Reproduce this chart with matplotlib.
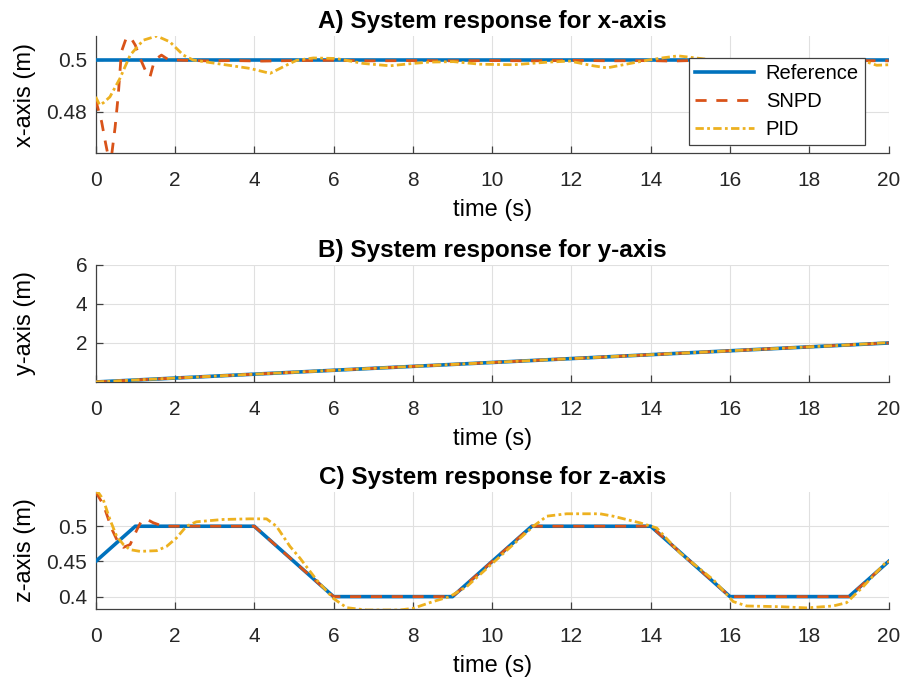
import matplotlib.pyplot as plt
import numpy as np

plt.rcParams['font.family'] = ['Liberation Sans', 'DejaVu Sans']

# colours (MATLAB default order)
c_ref = '#0072BD'
c_snpd = '#D95319'
c_pid = '#EDB120'

# ---- A) x-axis ----
xref_t = [0, 20]
xref_v = [0.5, 0.5]

xsnpd_t = [0, 0.15, 0.25, 0.31, 0.4, 0.49, 0.57, 0.65, 0.78, 0.9, 1.0, 1.12, 1.25, 1.37,
           1.45, 1.55, 1.66, 1.83, 2.2, 2.8, 3.5, 4.2, 5.0, 6.0, 7.0, 8.0, 9.0, 10.0,
           11.0, 12.0, 13.0, 14.0, 14.5, 15.0, 16.0, 17.0, 18.0, 19.0, 20.0]
xsnpd_v = [0.4845, 0.4762, 0.468, 0.4635, 0.463, 0.474, 0.4864, 0.503, 0.5086, 0.508, 0.5055,
           0.5005, 0.496, 0.4933, 0.4978, 0.5005, 0.5017, 0.5, 0.4997, 0.4995, 0.4996, 0.4994,
           0.4996, 0.4997, 0.4995, 0.4996, 0.4995, 0.4996, 0.4995, 0.4997, 0.4995, 0.4996,
           0.4994, 0.4996, 0.4995, 0.4996, 0.4995, 0.4996, 0.4995]

xpid_t = [0, 0.1, 0.2, 0.36, 0.61, 0.87, 1.2, 1.54, 1.87, 2.21, 2.46, 3.22, 3.89, 4.4, 4.9,
          5.07, 5.49, 6.06, 6.75, 7.42, 8.0, 8.4, 9.02, 9.7, 10.54, 11.4, 11.96, 12.55, 12.9,
          13.48, 13.9, 14.33, 14.69, 15.2, 16.0, 17.0, 18.0, 19.0, 19.44, 19.7, 20.0]
xpid_v = [0.4857, 0.4826, 0.4835, 0.4857, 0.4927, 0.5017, 0.5074, 0.509, 0.5068, 0.5017,
          0.4998, 0.4981, 0.4966, 0.4947, 0.4985, 0.4997, 0.5006, 0.5004, 0.4985, 0.4976,
          0.4985, 0.499, 0.4992, 0.4982, 0.498, 0.499, 0.4994, 0.4976, 0.4968, 0.4985, 0.4997,
          0.5007, 0.5014, 0.5005, 0.499, 0.4985, 0.4992, 0.4985, 0.4991, 0.4978, 0.498]

# ---- B) y-axis ----
y_t = [0, 1, 2, 3, 4, 5, 6, 7, 8, 9, 10, 11, 12, 13, 14, 15, 16, 17, 18, 19, 20]
yref_v = [0.0, 0.1, 0.2, 0.3, 0.4, 0.5, 0.6, 0.7, 0.8, 0.9, 1.0, 1.1, 1.2, 1.3, 1.4, 1.5,
          1.6, 1.7, 1.8, 1.9, 2.0]
ysnpd_v = [0.0, 0.1, 0.2, 0.3, 0.4, 0.5, 0.6, 0.7, 0.8, 0.9, 1.0, 1.1, 1.2, 1.3, 1.4, 1.5,
           1.6, 1.7, 1.8, 1.9, 2.0]
ypid_v = [0.0, 0.1, 0.2, 0.3, 0.4, 0.5, 0.6, 0.7, 0.8, 0.9, 1.0, 1.1, 1.2, 1.3, 1.4, 1.5,
          1.6, 1.7, 1.8, 1.9, 2.02]

# ---- C) z-axis ----
zref_t = [0, 1, 4, 6, 9, 11, 14, 16, 19, 20]
zref_v = [0.45, 0.5, 0.5, 0.4, 0.4, 0.5, 0.5, 0.4, 0.4, 0.45]

zsnpd_t = [0, 0.2, 0.4, 0.55, 0.7, 0.87, 1.04, 1.16, 1.3, 1.45, 1.7, 4, 6, 9, 11, 14, 16, 19, 20]
zsnpd_v = [0.549, 0.53, 0.497, 0.479, 0.47, 0.474, 0.495, 0.508, 0.5096, 0.505, 0.5,
           0.5, 0.4, 0.4, 0.5, 0.5, 0.4, 0.4, 0.45]

zpid_t = [0, 0.08, 0.19, 0.36, 0.53, 0.7, 0.87, 1.12, 1.54, 1.79, 2.04, 2.29, 2.54, 3.21, 3.89,
          4.31, 4.56, 4.9, 5.15, 5.57, 5.99, 6.33, 6.83, 7.67, 8.01, 8.51, 8.93, 9.36, 10.2,
          11.04, 11.38, 11.88, 12.72, 13.05, 13.73, 14.15, 14.74, 15.58, 16.08, 16.42, 17.26,
          17.93, 18.6, 18.94, 19.36, 19.95, 20]
zpid_v = [0.549, 0.547, 0.538, 0.5096, 0.4857, 0.4739, 0.4667, 0.4643, 0.4653, 0.4714, 0.4834,
          0.5, 0.5063, 0.5096, 0.5105, 0.5105, 0.5, 0.4714, 0.4549, 0.4239, 0.3977, 0.3843,
          0.381, 0.381, 0.3834, 0.393, 0.4, 0.4143, 0.4571, 0.5, 0.5143, 0.5177, 0.5177,
          0.5143, 0.5048, 0.4976, 0.462, 0.4239, 0.393, 0.3867, 0.3857, 0.384, 0.3867, 0.3914,
          0.4143, 0.45, 0.449]

xticks = [0, 2, 4, 6, 8, 10, 12, 14, 16, 18, 20]
panels = [
    ("A) System response for x-axis", "x-axis (m)", (xref_t, xref_v), (xsnpd_t, xsnpd_v),
     (xpid_t, xpid_v), (0.4642, 0.509), [0.48, 0.5], ["0.48", "0.5"]),
    ("B) System response for y-axis", "y-axis (m)", (y_t, yref_v), (y_t, ysnpd_v),
     (y_t, ypid_v), (0, 6), [2, 4, 6], ["2", "4", "6"]),
    ("C) System response for z-axis", "z-axis (m)", (zref_t, zref_v), (zsnpd_t, zsnpd_v),
     (zpid_t, zpid_v), (0.3824, 0.5486), [0.4, 0.45, 0.5], ["0.4", "0.45", "0.5"]),
]
bottoms = [0.7753, 0.4391, 0.1057]

fig = plt.figure(figsize=(9.05, 6.81), dpi=100)

for i, (title, ylab, ref, snpd, pid, ylim, yt, ytl) in enumerate(panels):
    ax = fig.add_axes([0.1057, bottoms[i], 0.8762, 0.1718])
    ax.plot(ref[0], ref[1], color=c_ref, lw=2.6, label='Reference', zorder=3)
    ax.plot(snpd[0], snpd[1], color=c_snpd, lw=2.0, dashes=(4, 3.5), label='SNPD', zorder=4)
    ax.plot(pid[0], pid[1], color=c_pid, lw=2.0, dashes=(3, 1.2, 1, 1.2), label='PID', zorder=5)

    ax.set_xlim(0, 20)
    ax.set_ylim(*ylim)
    ax.set_xticks(xticks)
    ax.set_xticklabels([str(t) for t in xticks])
    ax.set_yticks(yt)
    ax.set_yticklabels(ytl)
    ax.grid(True, color='#e0e0e0', lw=0.8)
    ax.set_axisbelow(True)
    for s in ['top', 'right']:
        ax.spines[s].set_visible(False)
    for s in ['left', 'bottom']:
        ax.spines[s].set_color('#404040')
        ax.spines[s].set_linewidth(0.9)
    ax.tick_params(direction='in', length=5, width=0.9, color='#404040',
                   labelsize=15, labelcolor='#262626')
    ax.tick_params(axis='x', pad=13)
    ax.tick_params(axis='y', pad=6)

    ax.set_title(title, fontsize=17.5, fontweight='bold', pad=6)
    ax.set_xlabel("time (s)", fontsize=17)
    ax.set_ylabel(ylab, fontsize=17)
    ax.xaxis.set_label_coords(0.5, -0.39)
    ax.yaxis.set_label_coords(-0.075, 0.5)

    if i == 0:
        leg = ax.legend(loc='upper right', bbox_to_anchor=(0.970, 0.8125), borderaxespad=0,
                        fontsize=14.5, handlelength=2.9, labelspacing=0.45, fancybox=False,
                        framealpha=1, edgecolor='#404040', borderpad=0.3, handletextpad=0.6)
        leg.get_frame().set_linewidth(0.9)

fig.savefig('out.png', dpi=100)
